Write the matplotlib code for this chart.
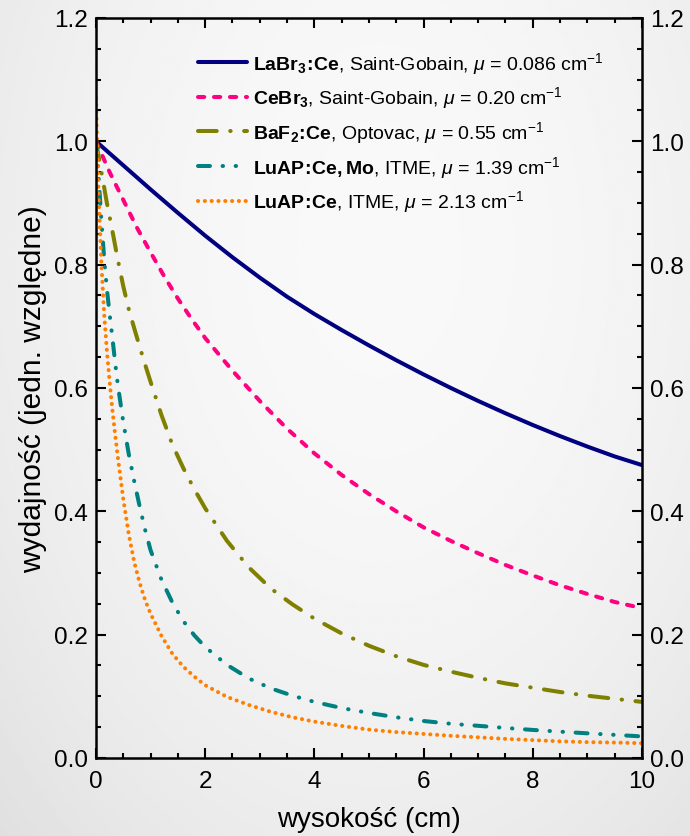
import numpy as np
import matplotlib
matplotlib.use("Agg")
import matplotlib.pyplot as plt
from matplotlib.ticker import MultipleLocator, FormatStrFormatter

plt.rcParams['font.family'] = ['Liberation Sans', 'DejaVu Sans']
plt.rcParams['mathtext.fontset'] = 'custom'
plt.rcParams['mathtext.rm'] = 'Liberation Sans'
plt.rcParams['mathtext.it'] = 'Liberation Sans:italic'
plt.rcParams['mathtext.bf'] = 'Liberation Sans:bold'
plt.rcParams['lines.scale_dashes'] = False

# Relative light output vs. crystal height
x_labr = [0, 0.5, 1.0, 1.5, 2.0, 2.5, 3.0, 3.5, 4.0, 4.5, 5.0, 5.5, 6.0, 6.5,
          7.0, 7.5, 8.0, 8.5, 9.0, 9.5, 10.0]
y_labr = [1.0, 0.961, 0.922, 0.884, 0.847, 0.812, 0.779, 0.748, 0.72, 0.694,
          0.669, 0.645, 0.622, 0.600, 0.579, 0.559, 0.540, 0.522, 0.505, 0.489, 0.475]

x_cebr = [0, 0.25, 0.5, 0.75, 1.0, 1.25, 1.5, 1.75, 2.0, 2.5, 3.0, 3.5, 4.0,
          4.5, 5.0, 5.5, 6.0, 6.5, 7.0, 7.5, 8.0, 8.5, 9.0, 9.5, 10.0]
y_cebr = [1.0, 0.95, 0.905, 0.86, 0.82, 0.781, 0.745, 0.712, 0.681, 0.628, 0.579,
          0.534, 0.494, 0.459, 0.428, 0.40, 0.374, 0.352, 0.332, 0.313, 0.296,
          0.28, 0.266, 0.253, 0.243]

x_baf = [0, 0.1, 0.2, 0.3, 0.4, 0.5, 0.6, 0.7, 0.8, 0.9, 1.0, 1.2, 1.4, 1.6,
         1.8, 2.0, 2.4, 2.8, 3.2, 3.6, 4.0, 4.5, 5.0, 5.5, 6.0, 6.5, 7.0, 7.5,
         8.0, 8.5, 9.0, 9.5, 10.0]
y_baf = [1.0, 0.95, 0.90, 0.855, 0.808, 0.765, 0.728, 0.697, 0.667, 0.638, 0.61,
         0.556, 0.508, 0.47, 0.436, 0.405, 0.352, 0.309, 0.275, 0.249, 0.226,
         0.202, 0.182, 0.165, 0.151, 0.140, 0.130, 0.121, 0.114, 0.107, 0.101,
         0.096, 0.091]

x_luapmo = [0, 0.05, 0.1, 0.15, 0.2, 0.25, 0.3, 0.35, 0.4, 0.5, 0.6, 0.7, 0.8,
            0.9, 1.0, 1.2, 1.4, 1.6, 1.8, 2.0, 2.4, 2.8, 3.2, 3.6, 4.0, 4.5,
            5.0, 5.5, 6.0, 6.5, 7.0, 7.5, 8.0, 8.5, 9.0, 9.5, 10.0]
y_luapmo = [1.0, 0.94, 0.87, 0.81, 0.76, 0.72, 0.682, 0.642, 0.605, 0.545, 0.493,
            0.449, 0.408, 0.37, 0.337, 0.289, 0.252, 0.222, 0.199, 0.18, 0.151,
            0.129, 0.113, 0.101, 0.091, 0.081, 0.073, 0.066, 0.060, 0.0555,
            0.0522, 0.0487, 0.0455, 0.0427, 0.040, 0.0375, 0.035]

x_luap = [0, 0.02, 0.05, 0.1, 0.15, 0.2, 0.25, 0.3, 0.35, 0.4, 0.5, 0.6, 0.7,
          0.8, 0.9, 1.0, 1.2, 1.4, 1.6, 1.8, 2.0, 2.4, 2.8, 3.2, 3.6, 4.0, 4.5,
          5.0, 5.5, 6.0, 6.5, 7.0, 7.5, 8.0, 8.5, 9.0, 9.5, 10.0]
y_luap = [1.07, 1.0, 0.91, 0.80, 0.72, 0.66, 0.61, 0.565, 0.525, 0.488, 0.42,
          0.363, 0.318, 0.284, 0.256, 0.234, 0.198, 0.169, 0.148, 0.132, 0.118,
          0.099, 0.086, 0.075, 0.066, 0.059, 0.052, 0.046, 0.042, 0.039, 0.036,
          0.0335, 0.031, 0.029, 0.027, 0.0257, 0.025, 0.024]

labels = [
    r"$\mathbf{LaBr_3}\!\mathbf{:}\!\mathbf{Ce}$, Saint-Gobain, $\mu$ = 0.086 cm$^{-1}$",
    r"$\mathbf{CeBr_3}$, Saint-Gobain, $\mu$ = 0.20 cm$^{-1}$",
    r"$\mathbf{BaF_2}\!\mathbf{:}\!\mathbf{Ce}$, Optovac, $\mu$ = 0.55 cm$^{-1}$",
    r"$\mathbf{LuAP}\!\mathbf{:}\!\mathbf{Ce,Mo}$, ITME, $\mu$ = 1.39 cm$^{-1}$",
    r"$\mathbf{LuAP}\!\mathbf{:}\!\mathbf{Ce}$, ITME, $\mu$ = 2.13 cm$^{-1}$",
]
colors = ['#000080', '#ff0080', '#808000', '#008080', '#ff8000']

fig = plt.figure(figsize=(6.9, 8.37), dpi=100)

# soft grey backdrop
bg = fig.add_axes([0, 0, 1, 1], zorder=-10)
yy, xx = np.mgrid[0:1:300j, 0:1:300j]
r2 = ((xx - 0.55) / 0.75) ** 2 + ((yy - 0.3) / 0.95) ** 2
grad = np.clip(0.975 - 0.09 * r2, 0.86, 1.0)
bg.imshow(grad, cmap='gray', vmin=0, vmax=1, extent=[0, 1, 0, 1],
          aspect='auto', origin='upper', interpolation='bilinear')
bg.axis('off')

ax = fig.add_axes([0.1391, 0.0932, 0.7913, 0.8841])
ax.patch.set_alpha(0)

lw = 2.9
ax.plot(x_labr, y_labr, color=colors[0], lw=lw, solid_capstyle='round',
        solid_joinstyle='round', label=labels[0])
ax.plot(x_cebr, y_cebr, color=colors[1], lw=lw, dash_capstyle='round',
        linestyle=(0, (4.5, 7)), label=labels[1])
ax.plot(x_baf, y_baf, color=colors[2], lw=lw, dash_capstyle='round',
        linestyle=(0, (13.5, 9.7, 0.3, 9.7)), label=labels[2])
ax.plot(x_luapmo, y_luapmo, color=colors[3], lw=lw, dash_capstyle='round',
        linestyle=(0, (8.6, 9.1, 0.3, 9.1, 0.3, 9.1)), label=labels[3])
ax.plot(x_luap, y_luap, color=colors[4], lw=lw, dash_capstyle='round',
        linestyle=(0, (0.1, 4.8)), label=labels[4])

ax.set_xlim(0, 10)
ax.set_ylim(0, 1.2)
ax.xaxis.set_major_locator(MultipleLocator(2))
ax.xaxis.set_minor_locator(MultipleLocator(0.5))
ax.yaxis.set_major_locator(MultipleLocator(0.2))
ax.yaxis.set_minor_locator(MultipleLocator(0.05))
ax.yaxis.set_major_formatter(FormatStrFormatter('%.1f'))

for s in ax.spines.values():
    s.set_linewidth(1.8)
ax.tick_params(which='both', direction='in', top=True, right=True,
               labelright=True, width=1.5, labelsize=17.5)
ax.tick_params(which='major', length=7.5)
ax.tick_params(which='minor', length=3.8)
ax.tick_params(axis='x', pad=9)
ax.tick_params(axis='y', pad=6)

ax.set_xlabel('wysokość (cm)', fontsize=20, labelpad=10)
ax.set_ylabel('wydajność (jedn. względne)', fontsize=21.5, labelpad=5)

leg = ax.legend(loc='upper left', bbox_to_anchor=(0.187, 0.957), frameon=False,
                fontsize=14, handlelength=2.5, handletextpad=0.35,
                labelspacing=0.45, borderpad=0, borderaxespad=0)

fig.savefig('out.png', dpi=100)
